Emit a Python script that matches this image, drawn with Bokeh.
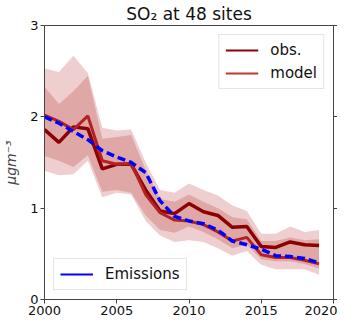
from bokeh.plotting import figure
from bokeh.models import Range1d, FixedTicker, LinearAxis, Legend, LegendItem, ColumnDataSource
from bokeh.embed import file_html
from bokeh.resources import INLINE

years = list(range(2000, 2020))
obs = [1.86, 1.72, 1.89, 1.87, 1.43, 1.48, 1.48, 1.20, 0.97, 0.94, 1.05, 0.96, 0.92, 0.79, 0.80, 0.58, 0.57, 0.63, 0.60, 0.59]
model = [2.02, 1.95, 1.86, 2.01, 1.52, 1.48, 1.49, 1.15, 0.95, 0.87, 0.86, 0.82, 0.74, 0.64, 0.68, 0.49, 0.46, 0.46, 0.43, 0.39]
emissions = [2.00, 1.93, 1.84, 1.75, 1.63, 1.56, 1.50, 1.39, 1.08, 0.91, 0.86, 0.83, 0.76, 0.64, 0.60, 0.55, 0.48, 0.47, 0.45, 0.40]
band_a_hi = [2.53, 2.49, 2.67, 2.48, 1.88, 1.85, 1.86, 1.50, 1.20, 1.17, 1.27, 1.20, 1.14, 1.03, 0.97, 0.72, 0.72, 0.80, 0.74, 0.76]
band_a_lo = [1.41, 1.36, 1.37, 1.52, 1.12, 1.17, 1.15, 0.86, 0.70, 0.63, 0.65, 0.63, 0.56, 0.48, 0.53, 0.38, 0.33, 0.33, 0.33, 0.27]
band_b_hi = [2.33, 2.14, 2.28, 2.45, 1.76, 1.78, 1.80, 1.42, 1.10, 1.07, 1.15, 1.07, 1.00, 0.90, 0.88, 0.64, 0.64, 0.68, 0.65, 0.66]
band_b_lo = [1.57, 1.52, 1.45, 1.58, 1.18, 1.20, 1.17, 0.92, 0.76, 0.73, 0.80, 0.74, 0.66, 0.56, 0.60, 0.44, 0.42, 0.42, 0.39, 0.34]
x_ticks = [2000, 2005, 2010, 2015, 2020]
y_ticks = [0, 1, 2, 3]

FONT = "DejaVu Sans"
OBS_C = "#8b0000"
MOD_C = "#b22222"
BAND_C = "#b22222"
NAN = float("nan")

src = ColumnDataSource(dict(year=years, obs=obs, model=model, emis=emissions,
                            ahi=band_a_hi, alo=band_a_lo, bhi=band_b_hi, blo=band_b_lo))

p = figure(width=337, height=317, output_backend="svg", toolbar_location=None,
           x_range=Range1d(2000, 2020), y_range=Range1d(0, 3),
           min_border_left=38, min_border_right=0, min_border_top=3, min_border_bottom=0)

p.title.text = "SO\u2082 at 48 sites"
p.title.align = "center"
p.title.text_font = FONT
p.title.text_font_size = "17px"
p.title.text_font_style = "normal"
p.title.text_color = "#111111"
p.title.standoff = 3

p.grid.visible = False
p.outline_line_color = "#444444"
p.outline_line_width = 1

for ax in [p.xaxis[0], p.yaxis[0]]:
    ax.major_label_text_font = FONT
    ax.major_label_text_font_size = "13px"
    ax.major_label_text_color = "#111111"
    ax.axis_line_color = "#444444"
    ax.major_tick_line_color = "#444444"
    ax.major_tick_out = 4
    ax.major_tick_in = 0
    ax.minor_tick_line_color = None
    ax.major_label_standoff = 2

p.xaxis.ticker = FixedTicker(ticks=x_ticks)
p.xaxis.axis_label_standoff = 0
p.yaxis.ticker = FixedTicker(ticks=y_ticks)
p.yaxis.axis_label = "\u03bcgm\u207b\u00b3"
p.yaxis.axis_label_text_font = FONT
p.yaxis.axis_label_text_font_size = "14px"
p.yaxis.axis_label_text_font_style = "italic"
p.yaxis.axis_label_standoff = 8

rax = LinearAxis(ticker=FixedTicker(ticks=y_ticks))
rax.major_label_text_font_size = "0px"
rax.major_label_text_color = None
rax.major_label_standoff = 0
rax.axis_label_standoff = 0
rax.axis_line_color = "#444444"
rax.major_tick_line_color = "#444444"
rax.major_tick_out = 4
rax.major_tick_in = 0
rax.minor_tick_line_color = None
p.add_layout(rax, "right")

p.varea(x="year", y1="alo", y2="ahi", source=src, fill_color=BAND_C, fill_alpha=0.22)
p.varea(x="year", y1="blo", y2="bhi", source=src, fill_color=BAND_C, fill_alpha=0.22)

p.line(x="year", y="obs", source=src, line_color=OBS_C, line_width=3.5)
p.line(x="year", y="model", source=src, line_color=MOD_C, line_width=3)
p.line(x="year", y="emis", source=src, line_color="blue", line_width=3.5, line_dash="8 4")

# legend proxies (no visible data)
r_obs = p.line(x=[NAN], y=[NAN], line_color=OBS_C, line_width=2)
r_mod = p.line(x=[NAN], y=[NAN], line_color="#c0392b", line_width=2)
r_em = p.line(x=[NAN], y=[NAN], line_color="blue", line_width=2)

def style(lg):
    lg.label_text_font = FONT
    lg.label_text_font_size = "15px"
    lg.label_text_color = "#111111"
    lg.glyph_width = 33
    lg.glyph_height = 16
    lg.label_standoff = 12
    lg.padding = 6
    lg.spacing = 5
    lg.border_line_color = "#cccccc"
    lg.border_line_width = 1
    lg.background_fill_alpha = 0.85
    lg.margin = 9

lg1 = Legend(items=[LegendItem(label="obs.", renderers=[r_obs]),
                    LegendItem(label="model", renderers=[r_mod])], location="top_right")
style(lg1)
lg2 = Legend(items=[LegendItem(label="Emissions", renderers=[r_em])], location="bottom_left")
style(lg2)
p.add_layout(lg1, "center")
p.add_layout(lg2, "center")

open("out.html", "w").write(file_html(p, INLINE))
